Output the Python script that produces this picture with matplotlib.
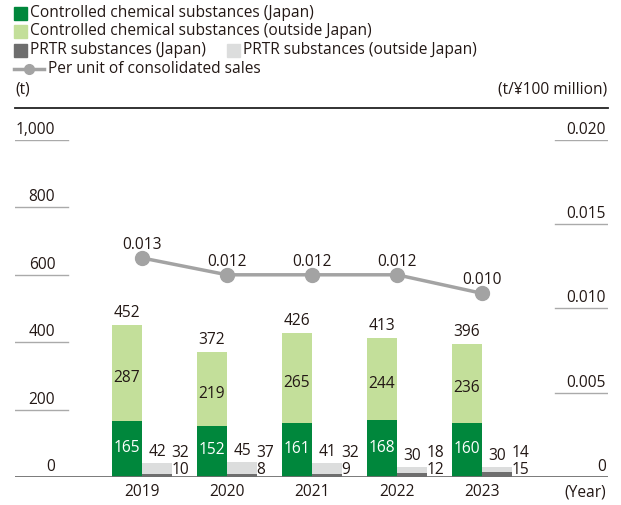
import matplotlib
matplotlib.use("Agg")
import matplotlib.pyplot as plt
from matplotlib.patches import Rectangle
from matplotlib.lines import Line2D
import matplotlib.transforms as mtransforms

plt.rcParams['font.family'] = ['Open Sans', 'DejaVu Sans']

years = ['2019', '2020', '2021', '2022', '2023']
ctrl_japan = [165, 152, 161, 168, 160]
ctrl_outside = [287, 219, 265, 244, 236]
ctrl_total = [452, 372, 426, 413, 396]
prtr_japan = [10, 8, 9, 12, 15]
prtr_outside = [32, 37, 32, 18, 14]
prtr_total = [42, 45, 41, 30, 30]
per_sales = [0.0130, 0.0120, 0.0120, 0.0120, 0.0109]
per_sales_labels = ['0.013', '0.012', '0.012', '0.012', '0.010']

left_ticks = [0, 200, 400, 600, 800, 1000]
left_labels = ['0', '200', '400', '600', '800', '1,000']
right_ticks = [0, 0.005, 0.010, 0.015, 0.020]
right_labels = ['0', '0.005', '0.010', '0.015', '0.020']

DKGREEN = '#00873c'
LTGREEN = '#c3df9a'
DKGRAY = '#6e6e6e'
LTGRAY = '#dcdddd'
LINEGRAY = '#a3a3a3'
TXT = '#231815'
FS = 11.2

W, H = 621, 505
fig = plt.figure(figsize=(W / 100, H / 100), dpi=100)
ax = fig.add_axes([15 / W, 28 / H, 593 / W, 337 / H])
ax.set_xlim(-1.494, 5.482)
ax.set_ylim(0, 1000)
ax.axis('off')
ax2 = ax.twinx()
ax2.set_ylim(0, 0.020)
ax2.axis('off')

x = list(range(len(years)))
bw = 0.353
xg = [i - bw / 2 for i in x]
xp = [i + bw / 2 for i in x]

ax.bar(xg, ctrl_japan, bw, color=DKGREEN, zorder=2)
ax.bar(xg, ctrl_outside, bw, bottom=ctrl_japan, color=LTGREEN, zorder=2)
ax.bar(xp, prtr_japan, bw, color=DKGRAY, zorder=2)
ax.bar(xp, prtr_outside, bw, bottom=prtr_japan, color=LTGRAY, zorder=2)

for i in x:
    ax.text(xg[i], ctrl_japan[i] / 2 + 3, str(ctrl_japan[i]), ha='center', va='center',
            color='white', fontsize=FS)
    ax.text(xg[i], ctrl_japan[i] + ctrl_outside[i] / 2 - 15, str(ctrl_outside[i]),
            ha='center', va='center', color=TXT, fontsize=FS)
    ax.text(xg[i], ctrl_total[i] + 12, str(ctrl_total[i]), ha='center', va='bottom',
            color=TXT, fontsize=FS)
    ax.text(xp[i], prtr_total[i] + 8, str(prtr_total[i]), ha='center', va='bottom',
            color=TXT, fontsize=FS)
    ax.text(i + bw - 0.01, 71, str(prtr_outside[i]), ha='left', va='center',
            color=TXT, fontsize=FS)
    ax.text(i + bw - 0.01, 21, str(prtr_japan[i]), ha='left', va='center',
            color=TXT, fontsize=FS)

ax2.plot(x, per_sales, color=LINEGRAY, lw=2.5, marker='o', ms=10, zorder=3)
for i in x:
    ax2.text(i, per_sales[i] + 0.0003, per_sales_labels[i], ha='center', va='bottom',
             color=TXT, fontsize=FS)

# baseline
ax.axhline(0, color=DKGRAY, lw=2, zorder=4)

# short tick segments with labels above
blend = mtransforms.blended_transform_factory(ax.transAxes, ax.transData)
blend2 = mtransforms.blended_transform_factory(ax2.transAxes, ax2.transData)
for t, lab in zip(left_ticks[1:], left_labels[1:]):
    ax.axhline(t, xmin=0, xmax=0.089, color='#aaaaaa', lw=1)
    ax.text(0.068, t + 6, lab, transform=blend, ha='right', va='bottom', color=TXT, fontsize=FS)
for t, lab in zip(right_ticks[1:], right_labels[1:]):
    ax2.axhline(t, xmin=0.911, xmax=1, color='#aaaaaa', lw=1)
    ax2.text(0.997, t + 0.00012, lab, transform=blend2, ha='right', va='bottom', color=TXT, fontsize=FS)
ax.text(0.068, 6, left_labels[0], transform=blend, ha='right', va='bottom', color=TXT, fontsize=FS)
ax2.text(0.997, 0.00012, right_labels[0], transform=blend2, ha='right', va='bottom', color=TXT, fontsize=FS)

for i in x:
    ax.text(i, -45, years[i], ha='center', va='center', color=TXT, fontsize=FS)
ax.text(0.997, -45, '(Year)', transform=blend, ha='right', va='center', color=TXT, fontsize=FS)

# overlay in pixel coords for legend and unit labels
ov = fig.add_axes([0, 0, 1, 1], zorder=-1)
ov.set_xlim(0, W)
ov.set_ylim(H, 0)
ov.axis('off')

def sq(xp0, yc, color, label):
    ov.add_patch(Rectangle((xp0, yc - 6.5), 13, 13, color=color))
    ov.text(xp0 + 16, yc, label, ha='left', va='center', color=TXT, fontsize=FS)

sq(14, 13, DKGREEN, 'Controlled chemical substances (Japan)')
sq(14, 31, LTGREEN, 'Controlled chemical substances (outside Japan)')
sq(14, 50, DKGRAY, 'PRTR substances (Japan)')
sq(227, 50, LTGRAY, 'PRTR substances (outside Japan)')
ov.add_line(Line2D([14, 44], [69, 69], color=LINEGRAY, lw=2.5))
ov.plot([29], [69], 'o', color=LINEGRAY, ms=7)
ov.text(48, 69, 'Per unit of consolidated sales', ha='left', va='center', color=TXT, fontsize=FS)

ov.text(15, 90, '(t)', ha='left', va='center', color=TXT, fontsize=FS)
ov.text(607, 90, '(t/¥100 million)', ha='right', va='center', color=TXT, fontsize=FS)
ov.add_line(Line2D([15, 608], [108, 108], color='#222222', lw=1.3))

fig.savefig('out.png', dpi=100)
